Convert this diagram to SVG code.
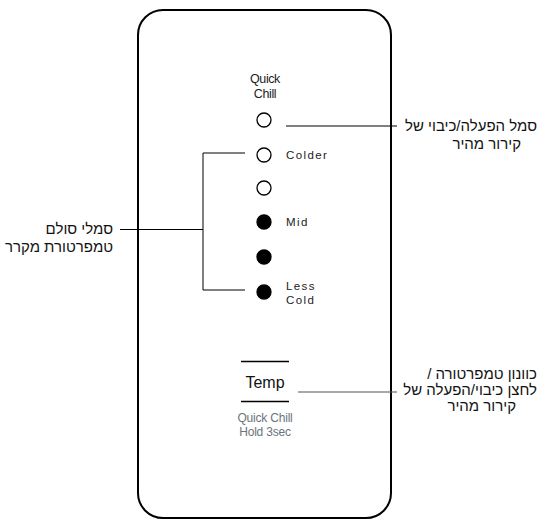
<svg xmlns="http://www.w3.org/2000/svg" width="539" height="520" viewBox="0 0 539 520">
<style>
.panel{fill:#fff;stroke:#000;stroke-width:2}
.led{stroke:#000;stroke-width:1.3}
.off{fill:#fff}
.on{fill:#000}
.ln{stroke:#000;stroke-width:1;fill:none}
.bar{stroke:#000;stroke-width:1.6;fill:none}
.gl{stroke:#555;stroke-width:1.2;fill:none}
.lbl{font-family:"Liberation Sans",Arial,sans-serif;font-size:11.5px;letter-spacing:1.4px;fill:#222}
.qc{font-family:"Liberation Sans",Arial,sans-serif;font-size:12.5px;letter-spacing:-0.4px;fill:#222;text-anchor:middle}
.he{font-family:"Liberation Sans","DejaVu Sans",sans-serif;font-size:15px;fill:#111}
.tmp{font-family:"Liberation Sans",Arial,sans-serif;font-size:16px;fill:#111;text-anchor:middle}
.gr{font-family:"Liberation Sans",Arial,sans-serif;font-size:12px;letter-spacing:-0.2px;fill:#6b747b;text-anchor:middle}
</style>
<rect width="539" height="520" fill="#fff"/>
<g id="panel">
<rect class="panel" x="138" y="10" width="253" height="508" rx="25" ry="25"/>
</g>
<g id="connectors">
<line class="ln" x1="286" y1="126" x2="397" y2="126"/>
<polyline class="ln" points="245,153 203,153 203,290 245,290"/>
<line class="ln" x1="120" y1="229.5" x2="203" y2="229.5"/>
<line class="gl" x1="298" y1="392" x2="397" y2="392"/>
</g>
<g id="quick-chill">
<text class="qc" x="265" y="82.5">Quick</text>
<text class="qc" x="265" y="97.5">Chill</text>
<circle class="led off" cx="264" cy="120" r="7"/>
</g>
<g id="colder">
<circle class="led off" cx="264" cy="155" r="7"/>
<text class="lbl" x="286" y="159">Colder</text>
</g>
<g id="level2"><circle class="led off" cx="264" cy="188" r="7"/></g>
<g id="mid">
<circle class="led on" cx="264" cy="222" r="7"/>
<text class="lbl" x="286" y="226">Mid</text>
</g>
<g id="level4"><circle class="led on" cx="264" cy="257" r="7"/></g>
<g id="less-cold">
<circle class="led on" cx="264" cy="292" r="7"/>
<text class="lbl" x="286" y="290">Less</text>
<text class="lbl" x="286" y="304">Cold</text>
</g>
<g id="temp-button">
<line class="bar" x1="241" y1="361.5" x2="289" y2="361.5"/>
<line class="bar" x1="241" y1="401.5" x2="289" y2="401.5"/>
<text class="tmp" x="265" y="388">Temp</text>
<text class="gr" x="265" y="422">Quick Chill</text>
<text class="gr" x="265" y="436">Hold 3sec</text>
</g>
<g id="label-quick-chill">
<text class="he" direction="rtl" text-anchor="start" x="537" y="131">סמל הפעלה/כיבוי של</text>
<text class="he" direction="rtl" text-anchor="start" x="521" y="149">קירור מהיר</text>
</g>
<g id="label-scale">
<text class="he" direction="rtl" text-anchor="start" x="113" y="234">סמלי סולם</text>
<text class="he" direction="rtl" text-anchor="start" x="113" y="252">טמפרטורת מקרר</text>
</g>
<g id="label-temp">
<text class="he" direction="rtl" text-anchor="start" x="537" y="379">כוונון טמפרטורה /</text>
<text class="he" direction="rtl" text-anchor="start" x="537" y="395">לחצן כיבוי/הפעלה של</text>
<text class="he" direction="rtl" text-anchor="start" x="516" y="411">קירור מהיר</text>
</g>
</svg>
